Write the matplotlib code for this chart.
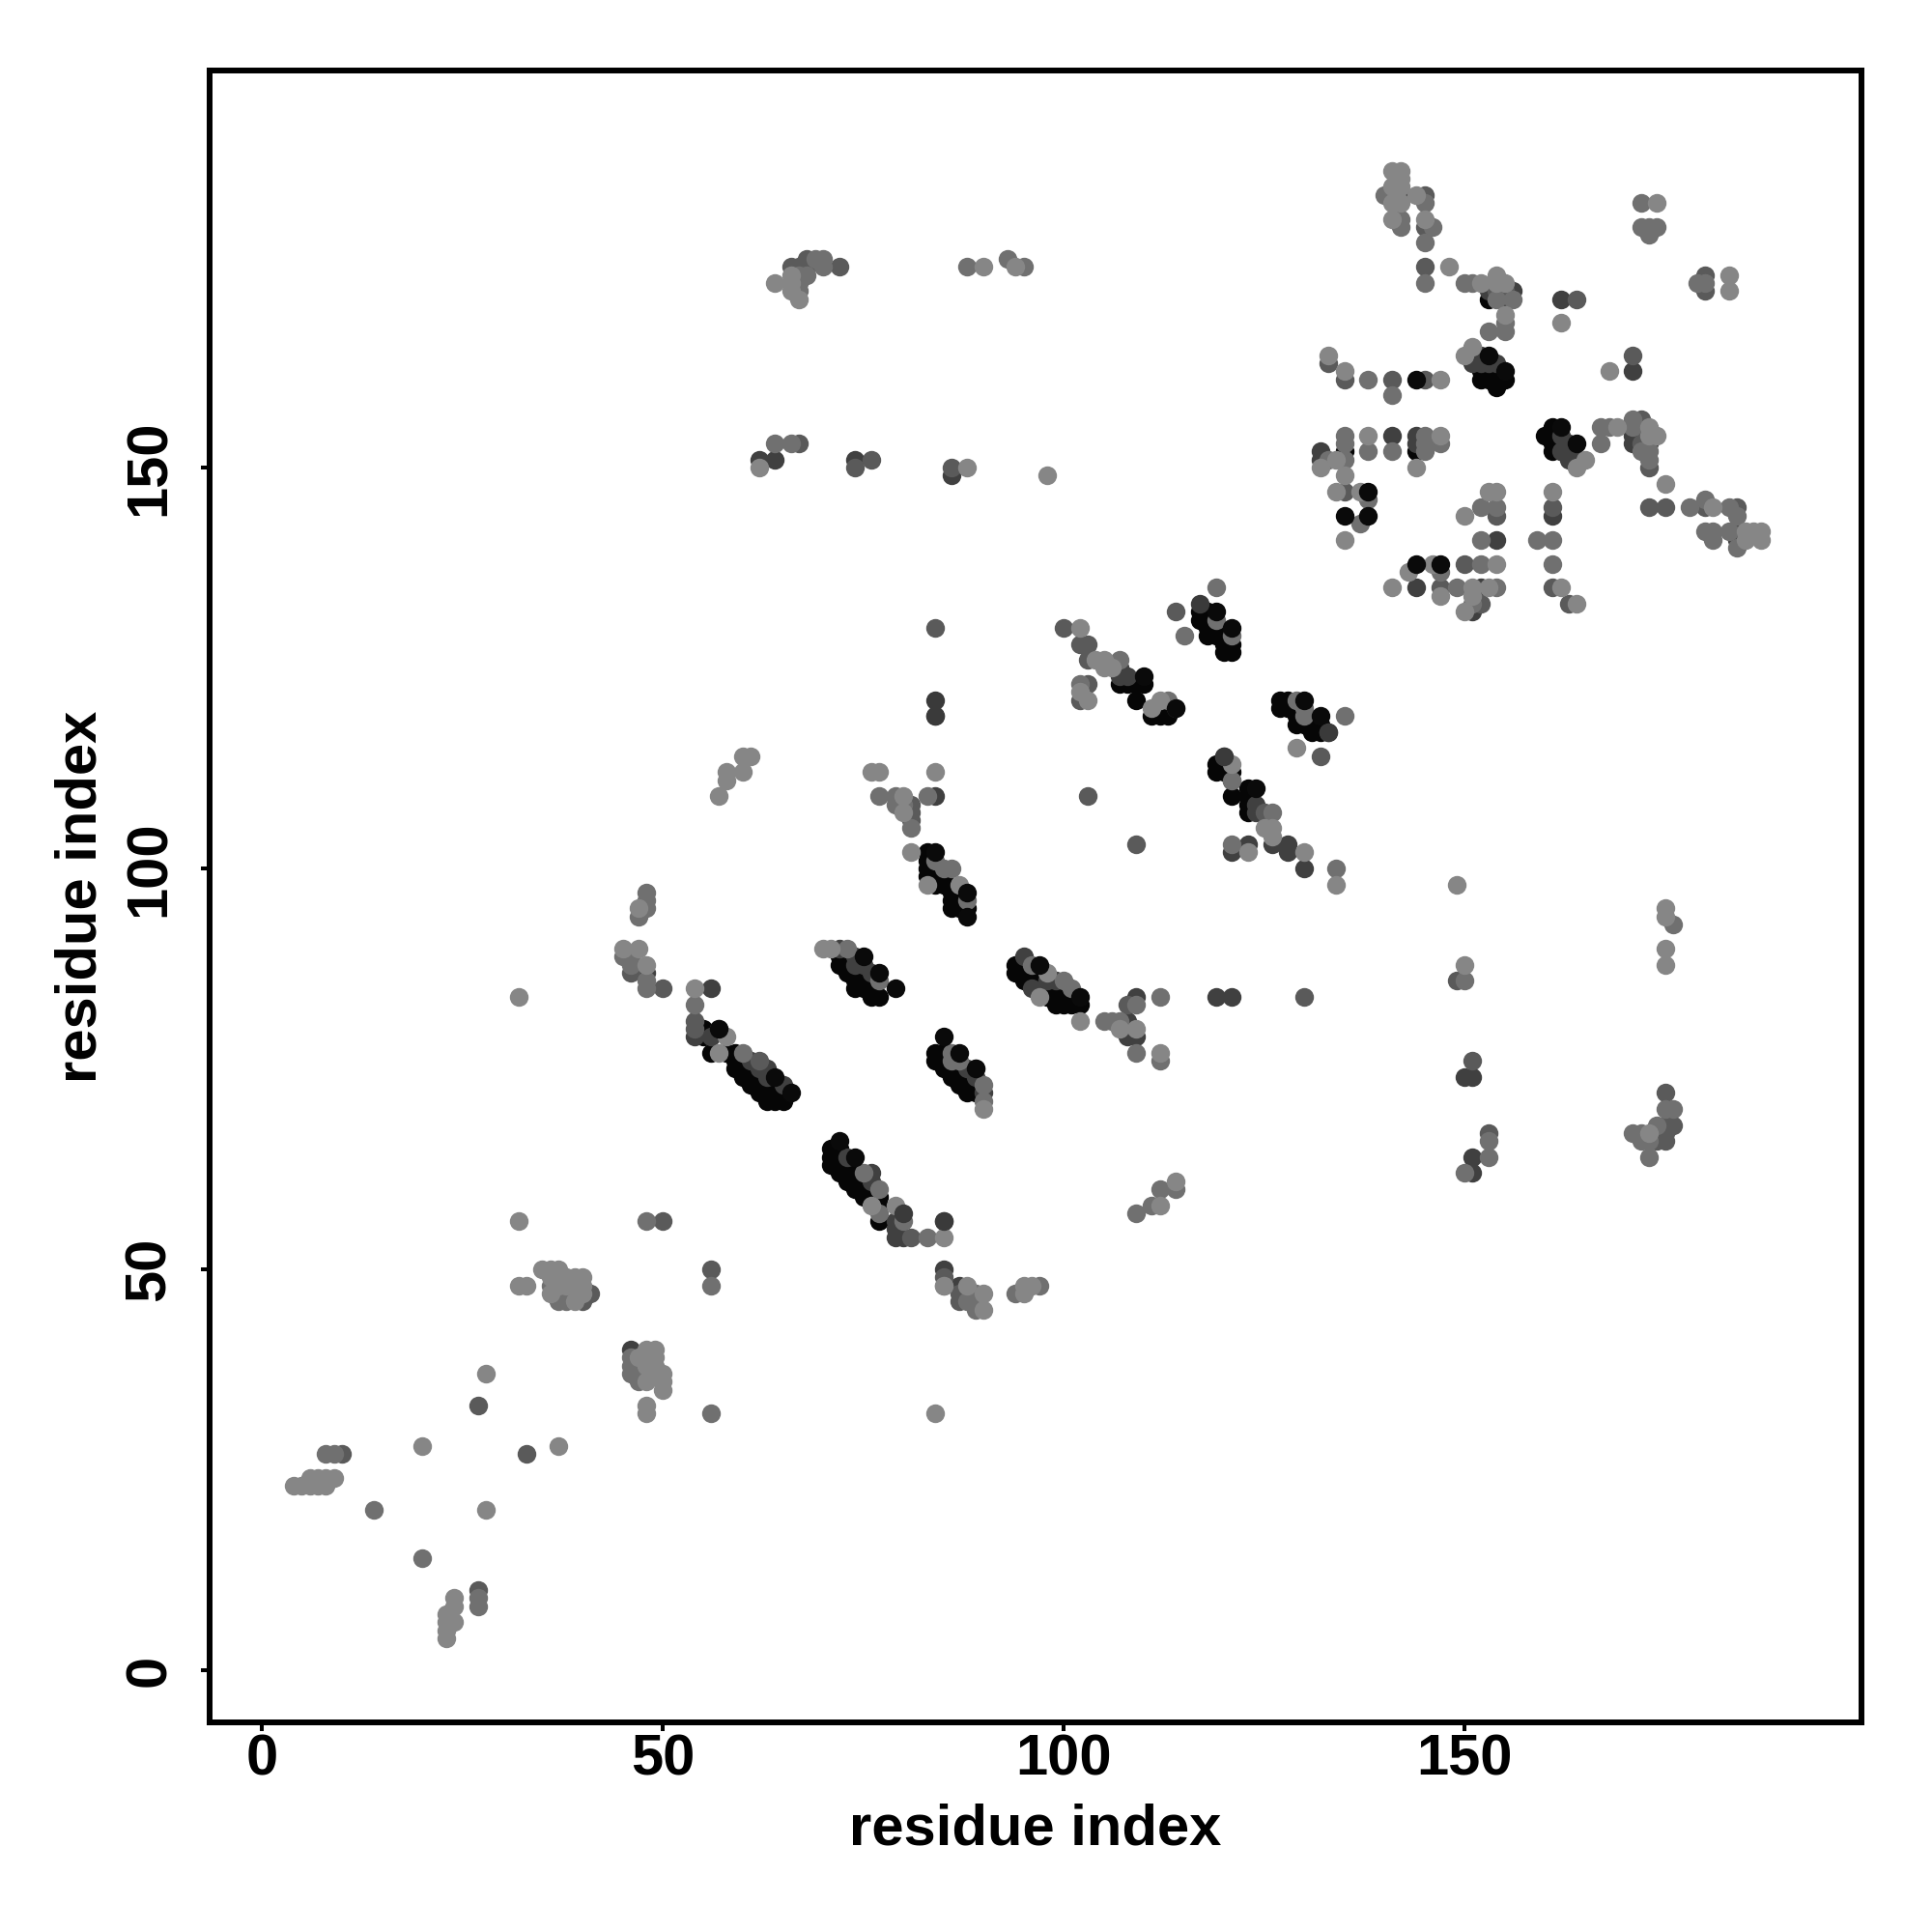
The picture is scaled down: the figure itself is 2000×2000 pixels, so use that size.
import matplotlib
matplotlib.use("Agg")
import matplotlib.pyplot as plt

plt.rcParams['font.family'] = ['Liberation Sans', 'DejaVu Sans']
plt.rcParams['font.weight'] = 'bold'

# contacts grouped by shade, (residue i, residue j)
black = [(55,80),(55,79),(56,77),(58,77),(59,77),(59,76),(59,75),(60,75),(60,74),(61,74),(61,73),(62,73),(62,74),(62,72),
         (63,72),(63,71),(64,71),(65,71),(64,72),(65,72),(63,73),
         (72,89),(72,88),(73,88),(73,87),(74,87),(74,86),(74,85),(75,86),(75,85),(76,85),(76,84),(77,84),(76,86),
         (84,77),(84,76),(85,77),(85,76),(85,75),(86,75),(86,74),(87,75),(87,74),(87,73),(88,74),(88,73),(88,72),(89,72),(89,73),
         (94,88),(94,87),(95,87),(95,86),(96,87),(96,86),(97,86),(97,85),(98,85),(98,84),(99,84),(99,83),(100,85),(100,84),
         (100,83),(101,83),(101,84),(102,83),
         (71,65),(72,65),(71,64),(72,64),(71,63),(72,63),(73,63),(72,62),(73,62),(74,62),(73,61),(74,61),(75,61),(74,60),(75,60),
         (76,60),(75,59),(76,59),(77,59),(77,58),(77,56),
         (83,102),(83,101),(83,100),(83,99),(84,100),(84,99),(84,98),(85,99),(85,98),(86,97),(86,96),(87,96),(87,95),(86,95),(88,95),
         (107,123),(108,123),(109,123),(110,123),(112,120),(112,119),(113,119),(111,119),(109,121),
         (117,132),(117,131),(118,132),(118,131),(118,130),(118,129),(119,130),(119,129),(120,128),(120,127),(121,127),(121,128),
         (127,121),(127,120),(128,121),(128,120),(129,120),(129,119),(129,118),(130,118),(130,119),(131,118),(131,117),(132,118),(132,117),
         (119,113),(119,112),(120,112),(120,113),(121,112),(121,111),(121,109),(123,110),(123,109),(123,108),(123,107),
         (152,162),(153,162),(154,162),(152,161),(153,161),(154,161),(155,161),(154,160),
         (160,154),(161,155),(161,154),(161,153),(161,152),(162,152),(135,152),(144,152),(153,171)]

dark = [(54,79),(56,79),(57,80),(61,76),(62,75),(63,74),(65,73),(63,75),
        (72,90),(74,89),(74,88),(75,88),(76,87),
        (88,75),(89,74),(89,75),(90,72),
        (95,89),(96,85),(99,86),(98,86),
        (76,62),(73,64),(76,61),(79,56),(79,54),(80,54),(79,55),(85,56),(85,50),(87,48),
        (141,184),(142,184),(48,87),(56,85),(46,40),
        (84,119),(84,109),(108,81),(108,80),(108,79),(109,79),(109,84),(107,124),(108,124),(107,125),(114,120),
        (120,114),(124,108),(124,107),(126,103),(128,103),(128,102),(123,103),(121,102),(130,100),(133,117),
        (119,84),(121,84),(62,151),(64,151),(74,151),(86,149),(151,74),(150,74),(151,62),(151,64),
        (151,164),(152,164),(151,163),(152,163),(153,163),(154,163),(162,154),(163,153),(163,152),(163,151),(164,151),(162,152),
        (171,154),(171,153),(173,153),(153,172),(155,171),(156,172),(152,135),(144,135),(151,132),
        (132,152),(132,151),(141,154),(144,154),(144,153),(162,171),(171,162),(184,142),(184,141),(161,144),(154,141)]

dark_mid = [(54,81),(54,80),(50,85),(56,50),(46,87),(27,33),(33,27),(50,56),(10,27),(27,10),(47,37),(62,76),
            (39,47),(40,46),(41,47),(153,67),
            (103,109),(109,103),(100,130),(102,128),(103,128),(103,126),(103,123),(102,121),(84,130),(114,132),
            (125,107),(130,84),(132,114),(108,83),(85,49),(81,108),(81,107),(81,106),(87,46),(87,47),(81,54),
            (66,175),(68,176),(67,175),(68,175),(72,175),(67,153),(76,151),(74,150),(86,150),
            (149,86),(151,76),(175,72),(175,68),(176,68),(175,67),(175,66),(174,66),
            (133,163),(135,161),(141,161),(145,161),(145,184),(145,180),(145,175),(164,171),(171,164),
            (172,156),(172,155),(172,153),(173,150),(173,145),(175,145),(180,145),(184,145),(161,145),(154,144),(147,135),(161,135),
            (163,133),(180,174),(180,172),(150,138),(152,133),(135,147),(154,172),(155,172)]

mid = [(54,83),(56,48),(48,56),(56,32),(14,20),(20,14),(8,27),(9,27),(27,9),(27,8),(48,97),(48,96),(48,95),(47,94),
       (45,89),(46,89),(46,88),(48,86),(48,85),(60,77),(73,90),(77,86),(86,77),(86,76),(87,76),(90,73),(90,71),
       (96,88),(100,86),(101,85),(75,62),(77,60),(77,57),(80,56),(83,54),(109,57),(112,60),(114,60),(111,58),
       (105,81),(106,81),(107,81),(109,77),(112,76),(109,83),(112,84),(97,48),(94,47),(85,48),(88,46),(89,46),(89,47),(89,45),
       (36,48),(37,47),(38,46),(37,46),(46,39),(46,38),(47,38),(46,37),(48,37),(47,36),(150,62),(153,64),(153,66),
       (77,109),(79,109),(79,108),(80,108),(81,105),(83,109),(86,100),(85,100),(84,101),(88,96),(102,123),(107,126),(113,121),
       (121,103),(126,107),(129,121),(130,120),(130,119),(134,100),(135,119),(121,111),(119,135),(115,129),(121,129),(119,131),
       (64,153),(66,153),(70,176),(70,175),(68,174),(67,174),(67,173),(67,172),(88,175),(93,176),(95,175),(69,176),
       (150,86),(176,93),(176,70),(175,70),(174,68),(171,67),(172,67),(172,66),(173,66),(173,64),
       (142,181),(142,180),(145,178),(145,173),(145,183),(146,180),(140,184),(155,168),(155,167),(153,167),(150,173),(151,173),
       (154,171),(156,171),(138,161),(141,159),(135,154),(135,153),(135,151),(138,152),(141,152),(145,154),(145,153),(145,152),(147,153),
       (133,151),(137,143),(138,146),(152,145),(154,145),(152,141),(152,138),(154,135),(149,135),(147,137),(151,133),(159,141),(161,141),(161,138),
       (167,155),(167,153),(168,155),(171,156),(171,155),(172,152),(173,152),(173,151),(178,145),(180,146),(180,142),(181,142),(181,141),
       (183,145),(183,142),(184,144),(184,140),(172,180),(173,180),(174,180),(173,179),(179,173),(180,173),(172,183)]

light = [(32,56),(32,48),(33,48),(35,50),(36,50),(37,50),(36,49),(37,49),(38,49),(39,49),(40,49),(37,48),(38,48),(39,48),(40,48),
         (36,47),(40,47),(39,46),
         (48,40),(49,40),(47,39),(48,39),(49,39),(48,38),(49,38),(49,37),(50,37),(48,36),(50,36),(50,35),
         (48,33),(48,32),(28,37),(28,20),(20,28),(37,28),(32,84),(84,32),
         (4,23),(5,23),(6,23),(7,23),(8,23),(6,24),(7,24),(8,24),(9,24),
         (24,9),(24,8),(23,7),(23,6),(24,6),(23,5),(23,4),
         (47,95),(45,90),(47,90),(48,88),(54,85),(58,79),(57,77),(70,90),(71,90),(90,70),(98,87),(102,81),(97,84),
         (76,58),(79,58),(85,54),(114,61),(112,58),(112,77),(107,80),(109,80),(85,48),(88,48),(90,47),(90,45),(95,47),(95,48),(96,48),
         (57,109),(58,111),(58,112),(60,112),(60,114),(61,114),(76,112),(77,112),(84,112),(80,109),(80,107),(81,102),(87,98),(83,98),
         (102,130),(102,122),(103,121),(104,126),(105,126),(105,125),(106,125),(111,120),
         (125,105),(126,105),(126,104),(123,102),(130,102),(134,98),(129,115),(121,113),(112,121),
         (64,173),(66,174),(66,173),(66,172),(67,171),(90,175),(94,175),(62,150),(88,150),(98,149),(149,98),(150,88),(175,95),(175,94),(175,90),(175,88),
         (141,187),(142,187),(142,186),(141,185),(142,185),(141,183),(142,183),(141,181),(144,184),(145,181),(148,175),
         (152,173),(154,174),(155,173),(154,173),(155,169),(150,164),(151,165),(162,168),(168,162),(133,164),(135,162),(147,161),
         (138,154),(147,154),(135,149),(144,150),(132,150),(134,151),(134,147),(137,147),(135,141),(153,147),(154,147),(150,144),(161,147),(154,138),
         (141,135),(146,138),(143,137),(147,134),(151,135),(153,135),(162,135),(164,133),(150,132),(151,134),
         (165,151),(164,150),(169,155),(173,155),(174,154),(173,154),(175,148),(181,145),(185,142),(186,142),(187,142),(187,141),(185,141),
         (174,183),(183,174),(183,172),(173,67)]

top_black = [(57,80),(64,74),(66,72),(77,87),(79,85),(75,89),(72,66),(74,64),(87,77),(85,79),(89,75),(102,84),(97,88),(84,102),
             (88,97),(88,94),(110,124),(114,120),(130,121),(132,119),(119,132),(121,130),(124,110),(144,161),(153,164),(155,162),
             (162,155),(164,153),(138,147),(138,144),(144,138),(147,138),(135,144)]
top_dark = [(80,57),(85,56),(84,121),(84,119),(117,133),(120,114),(133,117)]

ticks = [0, 50, 100, 150]

fig = plt.figure(figsize=(20, 20), dpi=100)
ax = fig.add_axes([217/2000, 217/2000, 1710/2000, 1710/2000])

layers = [(black, '#060606'), (dark, '#404040'), (dark_mid, '#5a5a5a'), (mid, '#707070'), (light, '#868686'),
          (top_black, '#0a0a0a'), (top_dark, '#3a3a3a')]
for pts, col in layers:
    xs = [p[0] for p in pts]
    ys = [p[1] for p in pts]
    ax.scatter(xs, ys, s=195, c=col, linewidths=0)

ax.set_xlim(-6.5, 199.5)
ax.set_ylim(-6.5, 199.5)
ax.set_xticks(ticks)
ax.set_yticks(ticks)
ax.tick_params(axis='x', length=6.5, width=2.9, labelsize=43, pad=2)
ax.tick_params(axis='y', length=6.5, width=2.9, labelsize=43, pad=18)
for lab in ax.get_yticklabels():
    lab.set_rotation(90)
    lab.set_va('center')
for s in ax.spines.values():
    s.set_linewidth(4.3)
ax.set_xlabel('residue index', fontsize=43, fontweight='bold', labelpad=12)
ax.set_ylabel('residue index', fontsize=43, fontweight='bold', labelpad=12)

plt.savefig('out.png', dpi=100)
